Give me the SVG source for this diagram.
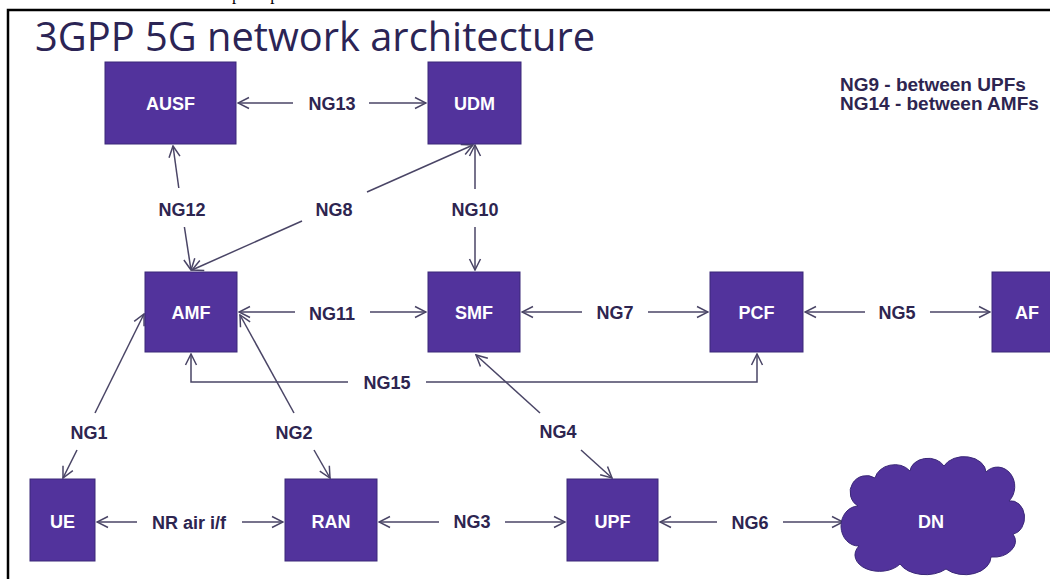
<svg xmlns="http://www.w3.org/2000/svg" width="1050" height="579" viewBox="0 0 1050 579">
  <style>
    .node rect, .node path { fill: #52339c; stroke: #3b2878; stroke-width: 1; }
    .node text { font-family: "Liberation Sans", Arial, sans-serif; font-weight: bold; font-size: 18px; fill: #ffffff; text-anchor: middle; dominant-baseline: central; }
    .lbl { font-family: "Liberation Sans", Arial, sans-serif; font-weight: bold; font-size: 18px; fill: #2d2550; text-anchor: middle; dominant-baseline: central; }
    .legend { font-family: "Liberation Sans", Arial, sans-serif; font-weight: bold; font-size: 19px; fill: #2d2550; }
    #connectors line, #connectors polyline { stroke: #4a4566; stroke-width: 1.5; fill: none; marker-end: url(#arr); }
  </style>
  <defs>
    <marker id="arr" markerUnits="userSpaceOnUse" markerWidth="14" markerHeight="14" viewBox="0 0 14 14" refX="13" refY="7" orient="auto">
      <path d="M2,1.5 L13,7 L2,12.5" fill="none" stroke="#4a4566" stroke-width="1.5"/>
    </marker>
  </defs>

  <rect width="1050" height="579" fill="#ffffff"/>

  <!-- frame -->
  <path d="M8,579 L8,10 L1050,10" fill="none" stroke="#000000" stroke-width="2.5"/>
  <text x="232" y="-0.5" font-family="Liberation Serif, serif" font-size="17" fill="#000" xml:space="preserve">p       p</text>

  <!-- title -->
  <text x="35" y="51" font-family="Open Sans, sans-serif" font-size="40" fill="#2b2455" textLength="560" lengthAdjust="spacingAndGlyphs">3GPP 5G network architecture</text>

  <!-- legend -->
  <text class="legend" x="840" y="91">NG9 - between UPFs</text>
  <text class="legend" x="840" y="110">NG14 - between AMFs</text>

  <!-- connectors -->
  <g id="connectors">
    <!-- NG13 AUSF-UDM -->
    <line x1="293" y1="103" x2="238" y2="103"/>
    <line x1="369" y1="103" x2="426" y2="103"/>
    <!-- NG12 AUSF-AMF -->
    <line x1="178.8" y1="188" x2="173" y2="146"/>
    <line x1="184.4" y1="227" x2="191" y2="270"/>
    <!-- NG8 UDM-AMF -->
    <line x1="367" y1="192" x2="473" y2="145"/>
    <line x1="302" y1="221" x2="192" y2="270"/>
    <!-- NG10 UDM-SMF -->
    <line x1="475" y1="189" x2="475" y2="145"/>
    <line x1="475" y1="227" x2="475" y2="270"/>
    <!-- NG11 AMF-SMF -->
    <line x1="295" y1="312" x2="239" y2="312"/>
    <line x1="370" y1="312" x2="426" y2="312"/>
    <!-- NG7 SMF-PCF -->
    <line x1="582" y1="312" x2="522" y2="312"/>
    <line x1="648" y1="312" x2="708" y2="312"/>
    <!-- NG5 PCF-AF -->
    <line x1="865" y1="312" x2="805" y2="312"/>
    <line x1="930" y1="312" x2="990" y2="312"/>
    <!-- NG15 AMF-PCF -->
    <polyline points="348,382 191,382 191,354"/>
    <polyline points="426,382 757,382 757,354"/>
    <!-- NG1 UE-AMF -->
    <line x1="95" y1="413" x2="144" y2="314"/>
    <line x1="77" y1="450" x2="63" y2="478"/>
    <!-- NG2 AMF-RAN -->
    <line x1="294" y1="413" x2="240" y2="315"/>
    <line x1="314" y1="450" x2="330" y2="478"/>
    <!-- NG4 SMF-UPF -->
    <line x1="540" y1="413" x2="476" y2="355"/>
    <line x1="581" y1="450" x2="612" y2="478"/>
    <!-- NR air i/f UE-RAN -->
    <line x1="137" y1="522" x2="97" y2="522"/>
    <line x1="242" y1="522" x2="283" y2="522"/>
    <!-- NG3 RAN-UPF -->
    <line x1="439" y1="522" x2="379" y2="522"/>
    <line x1="505" y1="522" x2="565" y2="522"/>
    <!-- NG6 UPF-DN -->
    <line x1="717" y1="522" x2="660" y2="522"/>
    <line x1="783" y1="522" x2="843" y2="522"/>
  </g>

  <!-- connector labels -->
  <g id="labels">
    <text class="lbl" x="332" y="104">NG13</text>
    <text class="lbl" x="182" y="210">NG12</text>
    <text class="lbl" x="334" y="210">NG8</text>
    <text class="lbl" x="475" y="210">NG10</text>
    <text class="lbl" x="332" y="314">NG11</text>
    <text class="lbl" x="615" y="313">NG7</text>
    <text class="lbl" x="897" y="313">NG5</text>
    <text class="lbl" x="387" y="383">NG15</text>
    <text class="lbl" x="89" y="433">NG1</text>
    <text class="lbl" x="294" y="433">NG2</text>
    <text class="lbl" x="558" y="432">NG4</text>
    <text class="lbl" x="189" y="523">NR air i/f</text>
    <text class="lbl" x="472" y="522">NG3</text>
    <text class="lbl" x="750" y="523">NG6</text>
  </g>

  <!-- nodes -->
  <g id="AUSF" class="node"><rect x="105" y="62" width="131" height="82"/><text x="170.5" y="104">AUSF</text></g>
  <g id="UDM" class="node"><rect x="428" y="62" width="93" height="82"/><text x="474.5" y="104">UDM</text></g>
  <g id="AMF" class="node"><rect x="145" y="272" width="92" height="80"/><text x="191" y="313">AMF</text></g>
  <g id="SMF" class="node"><rect x="428" y="272" width="92" height="80"/><text x="474" y="313">SMF</text></g>
  <g id="PCF" class="node"><rect x="710" y="272" width="93" height="80"/><text x="756.5" y="313">PCF</text></g>
  <g id="AF" class="node"><rect x="992" y="272" width="70" height="80"/><text x="1027" y="313">AF</text></g>
  <g id="UE" class="node"><rect x="30" y="479" width="65" height="82"/><text x="62.5" y="522">UE</text></g>
  <g id="RAN" class="node"><rect x="285" y="479" width="92" height="82"/><text x="331" y="522">RAN</text></g>
  <g id="UPF" class="node"><rect x="567" y="479" width="91" height="82"/><text x="612.5" y="522">UPF</text></g>
  <g id="DN" class="node">
    <path d="M858,506 A15,15 0 0 1 875,478 A20,17 0 0 1 910,471 A18,14 0 0 1 944,466 A22,16 0 0 1 986,472 A16,18 0 0 1 1009,501 A13,16 0 0 1 1013,534 A22,16 0 0 1 991,557 A26,18 0 0 1 946,569 A28,18 0 0 1 900,564 A24,16 0 0 1 859,546 A14,16 0 0 1 858,506 Z"/>
    <text x="931" y="522">DN</text>
  </g>
</svg>
